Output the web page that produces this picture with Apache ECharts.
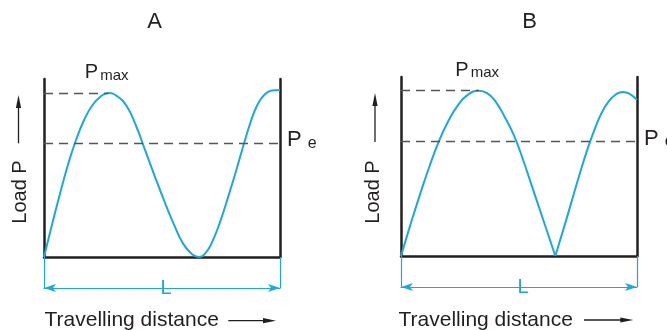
<!DOCTYPE html>
<html><head><meta charset="utf-8">
<script src="https://cdn.jsdelivr.net/npm/echarts@6.0.0/dist/echarts.min.js"></script>
<style>html,body{margin:0;padding:0;background:#fff}#c{width:667px;height:330px}</style>
</head><body><div id="c"></div>
<script>
// ---- data (x in % of travel length L, y in % of Pmax) ----
const curveA_x = [0,3,6.5,10,13.5,17,20.5,24,27.2,31,35,39,43,47,51,55,59,62.5,65.4,68.5,71.5,74.5,78,81.5,84.5,87.5,90.5,93.5,96.5,100];
const curveA_y = [0,17.5,37,55.5,71,83.5,92.5,97.8,100,98,92,80,64.5,49,34,20,8,2,0,2.5,10,21,36.5,53,68,82,93,99,101.5,101.8];
const curveB1_x = [0,4,8,12,16,20,24,28,32.9,36.5,40,44,48,52,56,60,65.4];
const curveB1_y = [0,19,37,54,69.2,81.5,91,97.2,100,98.5,93.5,84,72.5,57,40,23,0];
const curveB2_x = [65.4,69,72.5,76,79,82,85,88,91,94,97,100];
const curveB2_y = [0,17,34,51,64.5,76.5,86.5,93.5,97.7,99.3,98,94.5];
const pMax = 100;
const pE = 69.3;
const peakA_x = 27.2;
const peakB_x = 32.9;
const panelTitles = ['A', 'B'];
const loadLabel = 'Load P';
const distLabel = 'Travelling distance';
const lenLabel = 'L';

// ---- styles ----
const BLUE = '#1ca8df';
const INK = '#231f20';
const DASH = '#555555';
const FONT = '"Liberation Sans", Arial, Helvetica, sans-serif';

const zip = (xs, ys) => xs.map((x, i) => [x, ys[i]]);

const grids = [
  {left: 44, top: 79, width: 236, height: 178},
  {left: 401, top: 77, width: 236, height: 179}
];
const yMax = [108.5, 108.3];

const xAxes = [], yAxes = [];
grids.forEach((g, i) => {
  xAxes.push({type: 'value', gridIndex: i, min: 0, max: 100, position: 'bottom',
    axisLine: {onZero: false, lineStyle: {color: INK, width: 2.5}},
    axisTick: {show: false}, axisLabel: {show: false}, splitLine: {show: false}});
  xAxes.push({type: 'value', gridIndex: i, min: 0, max: 100, interval: 100, position: 'bottom', offset: 31,
    axisLine: {onZero: false, symbol: ['arrow', 'arrow'], symbolSize: [6, 12], lineStyle: {color: BLUE, width: 1.2}},
    axisTick: {show: true, inside: true, length: 31, lineStyle: {color: BLUE, width: 1.2}},
    axisLabel: {show: false}, splitLine: {show: false},
    name: lenLabel, nameLocation: 'middle', nameGap: 0,
    nameTextStyle: {color: BLUE, fontSize: 20, fontFamily: FONT, verticalAlign: 'middle',
      backgroundColor: '#fff', padding: [0, 0, 0, 8]}});
  yAxes.push({type: 'value', gridIndex: i, min: 0, max: yMax[i], position: 'left',
    axisLine: {onZero: false, lineStyle: {color: INK, width: 2.5}},
    axisTick: {show: false}, axisLabel: {show: false}, splitLine: {show: false}});
  yAxes.push({type: 'value', gridIndex: i, min: 0, max: yMax[i], position: 'right',
    axisLine: {onZero: false, lineStyle: {color: INK, width: 2.5}},
    axisTick: {show: false}, axisLabel: {show: false}, splitLine: {show: false}});
});

function marks(peakX) {
  return {
    markLine: {
      symbol: 'none', silent: true, animation: false,
      lineStyle: {type: [9, 6], color: DASH, width: 1.3},
      label: {show: false},
      data: [
        [{coord: [0, pMax]}, {coord: [peakX, pMax]}],
        [{coord: [0, pE], label: {show: true, position: 'end', distance: 7, offset: [0, -3],
          formatter: '{p|P}{e|e}',
          rich: {p: {fontSize: 22, fontFamily: FONT, color: INK, verticalAlign: 'bottom'},
                 e: {fontSize: 16, fontFamily: FONT, color: INK, verticalAlign: 'bottom', padding: [0, 0, 0, 6]}}}},
         {coord: [100, pE]}]
      ]
    },
    markPoint: {
      silent: true, animation: false, symbol: 'circle', symbolSize: 0,
      itemStyle: {color: 'rgba(0,0,0,0)'},
      data: [{coord: [peakX, pMax]}],
      label: {show: true, position: 'top', distance: 10, offset: [-1.5, 0],
        formatter: '{p|P}{m|max}',
        rich: {p: {fontSize: 20, fontFamily: FONT, color: INK, verticalAlign: 'bottom'},
               m: {fontSize: 15, fontFamily: FONT, color: INK, verticalAlign: 'bottom', padding: [0, 0, 0, 2]}}}
    }
  };
}

const lineBase = {type: 'line', smooth: 0.5, showSymbol: false, silent: true,
  lineStyle: {color: BLUE, width: 2}, animation: false, z: 3};

const series = [
  Object.assign({}, lineBase, {xAxisIndex: 0, yAxisIndex: 0, data: zip(curveA_x, curveA_y)}, marks(peakA_x)),
  Object.assign({}, lineBase, {xAxisIndex: 2, yAxisIndex: 2, data: zip(curveB1_x, curveB1_y)}, marks(peakB_x)),
  Object.assign({}, lineBase, {xAxisIndex: 2, yAxisIndex: 2, data: zip(curveB2_x, curveB2_y)})
];

// ---- text annotations & arrows ----
function txt(s, x, y, size, opts) {
  return Object.assign({type: 'text', x: x, y: y, silent: true,
    style: {text: s, fontSize: size, fontFamily: FONT, fill: INK, align: 'center', verticalAlign: 'middle'}}, opts || {});
}
function hArrow(x0, x1, y) {
  return [
    {type: 'line', silent: true, shape: {x1: x0, y1: y, x2: x1 - 10, y2: y}, style: {stroke: INK, lineWidth: 1.3}},
    {type: 'polygon', silent: true, shape: {points: [[x1, y], [x1 - 13, y - 2.6], [x1 - 13, y + 2.6]]}, style: {fill: INK}}
  ];
}
function vArrow(x, y0, y1) {
  return [
    {type: 'line', silent: true, shape: {x1: x, y1: y0, x2: x, y2: y1 + 10}, style: {stroke: INK, lineWidth: 1.3}},
    {type: 'polygon', silent: true, shape: {points: [[x, y1], [x - 2.6, y1 + 13], [x + 2.6, y1 + 13]]}, style: {fill: INK}}
  ];
}
const graphic = [
  txt(panelTitles[0], 154.5, 21.5, 22),
  txt(panelTitles[1], 529.7, 21.5, 22),
  txt(loadLabel, 20.5, 192, 20, {rotation: Math.PI / 2}),
  txt(loadLabel, 373.5, 192, 20, {rotation: Math.PI / 2}),
  {type: 'text', x: 44.5, y: 320.5, silent: true, style: {text: distLabel, fontSize: 21, fontFamily: FONT, fill: INK, align: 'left', verticalAlign: 'middle'}},
  {type: 'text', x: 398.5, y: 320.5, silent: true, style: {text: distLabel, fontSize: 21, fontFamily: FONT, fill: INK, align: 'left', verticalAlign: 'middle'}}
].concat(vArrow(18.5, 143.3, 95), vArrow(375, 142, 93), hArrow(228.3, 276, 320.7), hArrow(584, 633.3, 320));

const chart = echarts.init(document.getElementById('c'), null, {renderer: 'canvas'});
chart.setOption({
  animation: false,
  backgroundColor: '#fff',
  grid: grids,
  xAxis: xAxes,
  yAxis: yAxes,
  series: series,
  graphic: graphic
});
</script></body></html>
